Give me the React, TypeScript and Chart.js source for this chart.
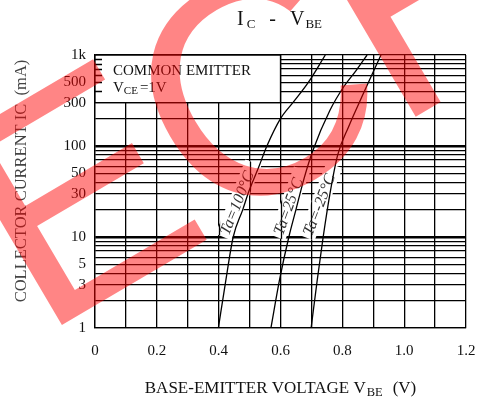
import React, { useEffect, useRef } from 'react';
import { Chart, registerables } from 'chart.js';

Chart.register(...registerables);

// ---------- data ----------
const xTickValues = [0, 0.1, 0.2, 0.3, 0.4, 0.5, 0.6, 0.7, 0.8, 0.9, 1.0, 1.1, 1.2];
const xTickLabels = ['0', '', '0.2', '', '0.4', '', '0.6', '', '0.8', '', '1.0', '', '1.2'];
const yTickValues = [
  1, 2, 3, 4, 5, 6, 7, 8, 9,
  10, 20, 30, 40, 50, 60, 70, 80, 90,
  100, 200, 300, 400, 500, 600, 700, 800, 900,
  1000,
];
const yLabelValues = [1, 3, 5, 10, 30, 50, 100, 300, 500, 1000];
const yLabelTexts = ['1', '3', '5', '10', '30', '50', '100', '300', '500', '1k'];
const thickYValues = [10, 100];

const seriesNames = ['Ta=100°C', 'Ta=25°C', 'Ta=-25°C'];
const vbe100 = [0.399, 0.421, 0.447, 0.478, 0.498, 0.529, 0.556, 0.6, 0.642, 0.69, 0.745];
const ic100 = [1, 3, 10, 20, 32, 58, 100, 200, 305, 500, 1000];
const vbe25 = [0.569, 0.597, 0.627, 0.65, 0.677, 0.705, 0.76, 0.804, 0.845, 0.88];
const ic25 = [1, 3.4, 10, 20, 45, 90, 247, 445, 679, 1000];
const vbeM25 = [0.699, 0.719, 0.738, 0.76, 0.785, 0.82, 0.868, 0.925];
const icM25 = [1, 3.4, 10, 30, 80, 162, 377, 1000];

const labelV = [0.461, 0.627, 0.727];
const labelI = [23.5, 21.5, 22.5];
const labelAngle = [-68, -70, -69];

const boxRightV = 0.6;
const boxBottomI = 300;
const boxStubValues = [400, 500, 600, 700, 800, 900];
const boxLine1 = 'COMMON EMITTER';
const boxLine2 = ['V', 'CE', '=1V'];

const titleParts = ['I', 'C', '-', 'V', 'BE'];
const xTitleParts = ['BASE-EMITTER VOLTAGE V', 'BE', '(V)'];
const yTitle = 'COLLECTOR CURRENT IC  (mA)';
const watermarkLetters = ['E', 'C', 'H'];
const watermarkShift = [0, -8, -20];

const SERIF = '"Liberation Serif", "Times New Roman", Times, serif';
const SANS = '"Liberation Sans", Arial, sans-serif';

type Part = { t: string; s: number; dy?: number; gap?: number; italic?: boolean };

function drawRich(ctx: CanvasRenderingContext2D, parts: Part[], x: number, y: number, align: 'left' | 'center') {
  const widths = parts.map((p) => {
    ctx.font = `${p.italic ? 'italic ' : ''}${p.s}px ${SERIF}`;
    return ctx.measureText(p.t).width;
  });
  const total = widths.reduce((a, w, i) => a + w + (parts[i].gap || 0), 0);
  let cx = align === 'center' ? x - total / 2 : x;
  ctx.textAlign = 'left';
  ctx.textBaseline = 'alphabetic';
  parts.forEach((p, i) => {
    ctx.font = `${p.italic ? 'italic ' : ''}${p.s}px ${SERIF}`;
    ctx.fillText(p.t, cx, y + (p.dy || 0));
    cx += widths[i] + (p.gap || 0);
  });
}

const decorPlugin = {
  id: 'decor',
  beforeDatasetsDraw(chart: any) {
    const { ctx, chartArea: ca } = chart;
    const xs = chart.scales.x;
    const ys = chart.scales.y;
    ctx.save();
    // legend box in upper-left
    const bx = xs.getPixelForValue(boxRightV);
    const by = ys.getPixelForValue(boxBottomI);
    ctx.fillStyle = '#fff';
    ctx.fillRect(ca.left, ca.top, bx - ca.left, by - ca.top);
    ctx.strokeStyle = '#000';
    ctx.lineWidth = 1.3;
    ctx.beginPath();
    ctx.moveTo(ca.left, ca.top);
    ctx.lineTo(bx, ca.top);
    ctx.lineTo(bx, by);
    ctx.lineTo(ca.left, by);
    ctx.closePath();
    ctx.stroke();
    ctx.beginPath();
    boxStubValues.forEach((v) => {
      const py = Math.round(ys.getPixelForValue(v)) + 0.5;
      ctx.moveTo(ca.left, py);
      ctx.lineTo(ca.left + 7, py);
    });
    ctx.stroke();
    ctx.fillStyle = '#111';
    ctx.font = `15px ${SERIF}`;
    ctx.textAlign = 'left';
    ctx.textBaseline = 'alphabetic';
    ctx.fillText(boxLine1, ca.left + 18, ca.top + 20);
    drawRich(
      ctx,
      [
        { t: boxLine2[0], s: 15 },
        { t: boxLine2[1], s: 11, dy: 2, gap: 2 },
        { t: boxLine2[2], s: 15 },
      ],
      ca.left + 18,
      ca.top + 37,
      'left'
    );

    // curve labels with white masks over horizontal grid lines
    seriesNames.forEach((name, i) => {
      const cx = xs.getPixelForValue(labelV[i]);
      const cy = ys.getPixelForValue(labelI[i]);
      ctx.save();
      ctx.translate(cx, cy);
      ctx.rotate((labelAngle[i] * Math.PI) / 180);
      ctx.font = `italic 16px ${SERIF}`;
      const w = ctx.measureText(name).width;
      const h = 12;
      const x0 = -w / 2 - 3;
      const x1 = w / 2 + 10;
      const y0 = -h / 2 - 3;
      const y1 = h / 2 + 2;
      ctx.fillStyle = '#fff';
      ctx.beginPath();
      ctx.rect(x0, y0, x1 - x0, y1 - y0);
      ctx.fill();
      ctx.clip();
      ctx.rotate((-labelAngle[i] * Math.PI) / 180);
      ctx.translate(-cx, -cy);
      ctx.strokeStyle = '#000';
      ctx.lineWidth = 1.3;
      ctx.beginPath();
      xTickValues.forEach((v) => {
        const px = Math.round(xs.getPixelForValue(v)) + 0.5;
        ctx.moveTo(px, ca.top);
        ctx.lineTo(px, ca.bottom);
      });
      ctx.stroke();
      ctx.restore();
      ctx.save();
      ctx.translate(cx, cy);
      ctx.rotate((labelAngle[i] * Math.PI) / 180);
      ctx.fillStyle = '#333';
      ctx.font = `italic 16px ${SERIF}`;
      ctx.textAlign = 'center';
      ctx.textBaseline = 'middle';
      ctx.fillText(name, 0, 0);
      ctx.restore();
    });
    ctx.restore();
  },
  afterDraw(chart: any) {
    const { ctx, chartArea: ca } = chart;
    const midX = (ca.left + ca.right) / 2;
    ctx.save();
    ctx.fillStyle = '#111';
    drawRich(
      ctx,
      [
        { t: titleParts[0], s: 20, gap: 3 },
        { t: titleParts[1], s: 13, dy: 3, gap: 14 },
        { t: titleParts[2], s: 20, gap: 14 },
        { t: titleParts[3], s: 20, gap: 1 },
        { t: titleParts[4], s: 13, dy: 3 },
      ],
      midX - 1,
      25,
      'center'
    );
    drawRich(
      ctx,
      [
        { t: xTitleParts[0], s: 17, gap: 1 },
        { t: xTitleParts[1], s: 12.5, dy: 3, gap: 10 },
        { t: xTitleParts[2], s: 17 },
      ],
      midX,
      393,
      'center'
    );
    ctx.save();
    ctx.translate(22, 181);
    ctx.rotate(-Math.PI / 2);
    ctx.fillStyle = '#444';
    ctx.font = `16.5px ${SERIF}`;
    ctx.textAlign = 'center';
    ctx.textBaseline = 'middle';
    ctx.fillText(yTitle, 0, 0);
    ctx.restore();

    // watermark
    ctx.save();
    ctx.translate(40, 338);
    ctx.rotate((-30.5 * Math.PI) / 180);
    ctx.fillStyle = 'rgba(255,0,0,0.48)';
    ctx.font = `310px ${SANS}`;
    ctx.textAlign = 'left';
    ctx.textBaseline = 'alphabetic';
    let adv = 0;
    watermarkLetters.forEach((ch, i) => {
      ctx.fillText(ch, adv + watermarkShift[i], 0);
      adv += ctx.measureText(ch).width;
    });
    ctx.restore();
    ctx.restore();
  },
};

function toPoints(xsArr: number[], ysArr: number[]) {
  return xsArr.map((v, i) => ({ x: v, y: ysArr[i] }));
}

export default function App() {
  const canvasRef = useRef<HTMLCanvasElement | null>(null);
  useEffect(() => {
    const canvas = canvasRef.current;
    if (!canvas) return;
    const lineStyle = {
      borderColor: '#000',
      borderWidth: 1.3,
      pointRadius: 0,
      fill: false,
      tension: 0.4,
      cubicInterpolationMode: 'monotone' as const,
    };
    const chart = new Chart(canvas, {
      type: 'line',
      data: {
        datasets: [
          { label: seriesNames[0], data: toPoints(vbe100, ic100), ...lineStyle },
          { label: seriesNames[1], data: toPoints(vbe25, ic25), ...lineStyle },
          { label: seriesNames[2], data: toPoints(vbeM25, icM25), ...lineStyle },
        ],
      },
      options: {
        animation: false,
        responsive: false,
        devicePixelRatio: 1,
        layout: { padding: { left: 0, right: 20, top: 55, bottom: 0 } },
        plugins: { legend: { display: false }, tooltip: { enabled: false }, title: { display: false } },
        scales: {
          x: {
            type: 'linear',
            min: 0,
            max: 1.2,
            afterBuildTicks: (scale: any) => {
              scale.ticks = xTickValues.map((v) => ({ value: v }));
            },
            afterFit: (scale: any) => {
              scale.height = 73;
            },
            ticks: {
              autoSkip: false,
              maxRotation: 0,
              padding: 2,
              color: '#111',
              font: { family: SERIF, size: 15 },
              callback: (_v: any, i: number) => xTickLabels[i],
            },
            grid: {
              color: '#000',
              lineWidth: 1.3,
              drawTicks: true,
              tickLength: 12,
              tickColor: 'rgba(0,0,0,0)',
            },
            border: { color: '#000', width: 1.3 },
          },
          y: {
            type: 'logarithmic',
            min: 1,
            max: 1000,
            afterBuildTicks: (scale: any) => {
              scale.ticks = yTickValues.map((v) => ({ value: v }));
            },
            afterFit: (scale: any) => {
              scale.width = 95;
            },
            ticks: {
              autoSkip: false,
              padding: 9,
              color: '#111',
              font: { family: SERIF, size: 15 },
              callback: (v: any) => {
                const k = yLabelValues.indexOf(Number(v));
                return k >= 0 ? yLabelTexts[k] : '';
              },
            },
            grid: {
              color: '#000',
              drawTicks: false,
              lineWidth: (c: any) => (c.tick && thickYValues.includes(c.tick.value) ? 2.4 : 1.3),
            },
            border: { color: '#000', width: 1.3 },
          },
        },
      },
      plugins: [decorPlugin],
    } as any);
    return () => chart.destroy();
  }, []);
  return (
    <div style={{ position: 'fixed', left: 0, top: 0, width: 486, height: 401, background: '#fff' }}>
      <canvas ref={canvasRef} width={486} height={401} style={{ display: 'block' }} />
    </div>
  );
}
